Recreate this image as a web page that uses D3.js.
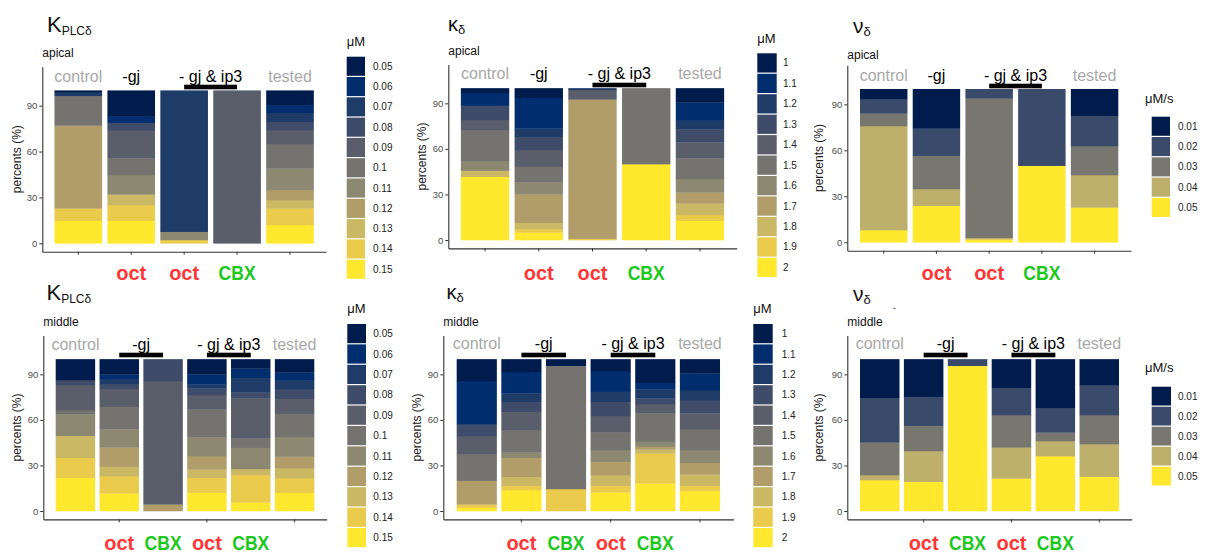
<!DOCTYPE html>
<html><head><meta charset="utf-8">
<script src="https://cdn.jsdelivr.net/npm/d3@7"></script>
<style>
body{margin:0;background:#fff;}
svg{display:block;font-family:"Liberation Sans",Arial,sans-serif;}
</style>
</head><body>
<svg id="chart" width="1211" height="554"></svg>
<script>
// ---------------- DATA ----------------
const kplcLevels  = ["0.05","0.06","0.07","0.08","0.09","0.1","0.11","0.12","0.13","0.14","0.15"];
const kappaLevels = ["1","1.1","1.2","1.3","1.4","1.5","1.6","1.7","1.8","1.9","2"];
const nuLevels    = ["0.01","0.02","0.03","0.04","0.05"];

const apicalGroups = ["control","-gj oct","-gj & ip3 oct","-gj & ip3 CBX","tested"];
const middleGroups = ["control","-gj oct","-gj CBX","-gj & ip3 oct","-gj & ip3 CBX","tested"];

const apicalTreatments = ["","oct","oct","CBX",""];
const middleTreatments = ["","oct","CBX","oct","CBX",""];

const headerLabels = ["control","-gj","- gj & ip3","tested"];

// percent per level (first level = top of stack), one row per bar
const kplcApical = [
  [1.0, 0, 2.5, 0, 0, 19.4, 0, 54.2, 0, 8.1, 14.8],
  [16.8, 4.3, 0, 5.2, 18.1, 10.9, 12.7, 0, 6.9, 10.3, 14.8],
  [0, 0, 92.4, 0, 0, 0, 5.4, 0, 0, 2.2, 0],
  [0, 0, 0, 0, 100, 0, 0, 0, 0, 0, 0],
  [9.6, 5.0, 5.9, 5.4, 9.2, 15.9, 14.1, 6.6, 5.4, 10.9, 12.0]
];
const kappaApical = [
  [3.0, 8.5, 0, 9.5, 6.6, 20.4, 6.3, 0, 4.0, 0, 41.7],
  [6.3, 20.2, 5.5, 8.7, 11.0, 10.3, 7.9, 18.7, 4.2, 2.2, 5.0],
  [0, 0, 1.1, 0, 6.3, 0, 0, 91.7, 0, 0.9, 0],
  [0, 0, 0, 0, 0, 50, 0, 0, 0, 0, 50],
  [9.4, 11.6, 6.1, 8.6, 10.5, 13.6, 8.8, 7.3, 7.6, 3.8, 12.7]
];
const nuApical = [
  [6.7, 9.2, 8.2, 67.9, 8.0],
  [25.7, 17.8, 21.7, 10.9, 23.9],
  [0, 6.1, 90.9, 1.0, 2.0],
  [0, 50, 0, 0, 50],
  [17.4, 19.8, 18.9, 21.1, 22.8]
];
const kplcMiddle = [
  [13.7, 0, 0, 3.3, 16.5, 2.8, 14.1, 0, 14.5, 13.2, 21.9],
  [10.0, 3.1, 3.3, 3.3, 11.6, 14.9, 11.9, 12.7, 6.2, 11.4, 11.6],
  [0, 0, 0, 14.4, 81.2, 0, 0, 4.4, 0, 0, 0],
  [10.0, 6.6, 2.6, 4.4, 9.5, 18.4, 12.3, 8.8, 5.5, 9.8, 12.1],
  [6.1, 6.1, 9.7, 3.9, 26.4, 6.1, 14.0, 0, 4.0, 18.0, 5.7],
  [8.7, 5.4, 5.5, 6.5, 9.8, 15.2, 13.0, 7.6, 6.6, 9.7, 12.0]
];
const kappaMiddle = [
  [14.4, 28.3, 0, 7.9, 11.9, 17.5, 0, 15.6, 0, 2.2, 2.2],
  [8.3, 14.2, 5.5, 6.6, 12.1, 14.7, 3.5, 12.5, 5.9, 2.9, 13.8],
  [4.3, 0, 0, 0, 0, 81.2, 0, 0, 0, 14.5, 0],
  [7.8, 13.6, 6.6, 9.4, 10.8, 11.6, 7.7, 8.8, 7.0, 4.4, 12.3],
  [15.5, 4.4, 5.9, 3.7, 6.2, 18.6, 3.3, 1.8, 2.6, 19.8, 18.2],
  [9.4, 10.9, 6.6, 8.8, 10.3, 13.8, 8.4, 7.7, 7.4, 3.5, 13.2]
];
const nuMiddle = [
  [25.4, 29.4, 21.5, 3.3, 20.4],
  [24.7, 19.1, 16.7, 20.2, 19.3],
  [0, 4.3, 0, 0, 95.7],
  [18.8, 18.0, 21.3, 20.4, 21.5],
  [32.0, 16.2, 5.7, 9.9, 36.2],
  [17.0, 19.8, 19.1, 21.5, 22.6]
];
const yTicks = [0, 30, 60, 90];

// ---------------- STYLE ----------------
const palette11 = ["#001C4C","#002D6E","#1F3C69","#3F4C69","#5A5E6B","#747370","#8D8871","#B09D6A","#CBB864","#EBCB4B","#FFE82E"];
const palette5  = ["#001C4C","#3A4A6B","#77766F","#BDAF6C","#FFE82E"];

const panels = [
  {main:"K", sub:"PLCδ", mainSize:22, subSize:12, region:"apical", unit:"μM",
   levels:kplcLevels, colors:palette11, groups:apicalGroups, values:kplcApical, treat:apicalTreatments,
   L:{x0:42.3, x1:326, po:0.23, y0:243.3, k:1.529, titleX:47, titleY:31.5, regionY:57,
      headY:81.7, lineY:87, treatY:280, ylabX:17, legX:346.7, legTitleY:46, legY:56.7, legStep:20.3, legW:18.3, legLabX:373}},
  {main:"κ", sub:"δ", mainSize:20, subSize:13, region:"apical", unit:"μM",
   levels:kappaLevels, colors:palette11, groups:apicalGroups, values:kappaApical, treat:apicalTreatments,
   L:{x0:448.3, x1:736.7, po:0.234, y0:240, k:1.5185, titleX:448, titleY:30.5, regionY:55,
      headY:79.3, lineY:85, treatY:280, ylabX:421.7, legX:757.3, legTitleY:43.3, legY:53.3, legStep:20.45, legW:19.4, legLabX:783}},
  {main:"ν", sub:"δ", mainSize:21, subSize:13, region:"apical", unit:"μM/s",
   levels:nuLevels, colors:palette5, groups:apicalGroups, values:nuApical, treat:apicalTreatments,
   L:{x0:847.3, x1:1131, po:0.241, y0:242.3, k:1.533, titleX:853, titleY:32.5, regionY:59,
      headY:81, lineY:86, treatY:280, ylabX:819, legX:1151.7, legTitleY:103.3, legY:116.7, legStep:20.3, legW:18.3, legLabX:1178, legTitleX:1145}},
  {main:"K", sub:"PLCδ", mainSize:22, subSize:12, region:"middle", unit:"μM",
   levels:kplcLevels, colors:palette11, groups:middleGroups, values:kplcMiddle, treat:middleTreatments,
   L:{x0:43.3, x1:326.7, po:0.283, y0:511, k:1.5185, titleX:46.5, titleY:300, regionY:326,
      headY:350, lineY:355, treatY:550, ylabX:16.7, legX:347.3, legTitleY:313.3, legY:324, legStep:20.4, legW:18.7, legLabX:373.3}},
  {main:"κ", sub:"δ", mainSize:20, subSize:13, region:"middle", unit:"μM",
   levels:kappaLevels, colors:palette11, groups:middleGroups, values:kappaMiddle, treat:middleTreatments,
   L:{x0:443.3, x1:733.4, po:0.30, y0:511, k:1.5185, titleX:446.5, titleY:299, regionY:326,
      headY:349.3, lineY:355, treatY:550, ylabX:416.7, legX:753.3, legTitleY:312.7, legY:324, legStep:20.4, legW:19.4, legLabX:781.7}},
  {main:"ν", sub:"δ", mainSize:21, subSize:13, region:"middle", unit:"μM/s",
   levels:nuLevels, colors:palette5, groups:middleGroups, values:nuMiddle, treat:middleTreatments, mark:true,
   L:{x0:847.3, x1:1131.7, po:0.289, y0:511, k:1.5185, titleX:853, titleY:301, regionY:326,
      headY:349, lineY:355, treatY:550, ylabX:819, legX:1151.7, legTitleY:371.7, legY:386.7, legStep:20, legW:19.3, legLabX:1178, legTitleX:1145}}
];

const svg = d3.select("#chart");

panels.forEach(p => {
  const L = p.L;
  const g = svg.append("g");
  const n = p.groups.length;

  const x = d3.scaleBand().domain(p.groups).range([L.x0, L.x1])
    .paddingInner(0.1).paddingOuter(L.po);
  const y = d3.scaleLinear().domain([-5.5, 115.5])
    .range([L.y0 + 5.5 * L.k, L.y0 - 115.5 * L.k]);
  const color = d3.scaleOrdinal().domain(p.levels).range(p.colors);

  // stacked bars: last level at bottom
  const rows = p.groups.map((grp, i) => {
    const o = {group: grp};
    p.levels.forEach((lv, j) => o[lv] = p.values[i][j]);
    return o;
  });
  const stackKeys = p.levels.slice().reverse();
  const series = d3.stack().keys(stackKeys)(rows);

  g.append("g").selectAll("g").data(series).join("g")
    .attr("fill", d => color(d.key))
    .selectAll("rect").data(d => d.filter(s => s[1] - s[0] > 0)).join("rect")
    .attr("x", d => x(d.data.group))
    .attr("width", x.bandwidth())
    .attr("y", d => y(d[1]))
    .attr("height", d => y(d[0]) - y(d[1]) + 0.3);

  // axes
  const ya = g.append("g").attr("transform", `translate(${L.x0},0)`)
    .call(d3.axisLeft(y).tickValues(yTicks).tickSize(3).tickSizeOuter(0).tickPadding(2));
  ya.select(".domain").attr("stroke", "#333").attr("stroke-width", 1.1);
  ya.selectAll(".tick line").attr("stroke", "#333");
  ya.selectAll(".tick text").attr("fill", "#4d4d4d").attr("font-size", 9.5)
    .attr("font-family", "Liberation Sans, Arial, sans-serif");

  const tickGroups = n === 6 ? [p.groups[1], p.groups[3], p.groups[5]] : p.groups;
  const xa = g.append("g").attr("transform", `translate(0,${y(-5.5)})`)
    .call(d3.axisBottom(x).tickValues(tickGroups).tickFormat("").tickSize(3).tickSizeOuter(0));
  xa.select(".domain").attr("stroke", "#333").attr("stroke-width", 1.1);
  xa.selectAll(".tick line").attr("stroke", "#333");

  // y label
  const yc = (y(-5.5) + y(115.5)) / 2;
  g.append("text").attr("transform", `translate(${L.ylabX},${yc}) rotate(-90)`)
    .attr("text-anchor", "middle").attr("dominant-baseline", "central")
    .attr("font-size", 12).attr("fill", "#1a1a1a").text("percents (%)");

  // title
  const t = g.append("text").attr("x", L.titleX).attr("y", L.titleY).attr("fill", "#111");
  t.append("tspan").attr("font-size", p.mainSize).text(p.main);
  t.append("tspan").attr("font-size", p.subSize).attr("dy", 3).text(p.sub);
  g.append("text").attr("x", L.x0).attr("y", L.regionY).attr("font-size", 12)
    .attr("fill", "#111").text(p.region);
  if (p.mark) {
    g.append("text").attr("x", 893).attr("y", 311).attr("font-size", 9).attr("fill", "#333").text("-");
  }

  // header labels
  const cx = grp => x(grp) + x.bandwidth() / 2;
  const spans = n === 6 ? [[0], [1, 2], [3, 4], [5]] : [[0], [1], [2, 3], [4]];
  headerLabels.forEach((lab, i) => {
    const idx = spans[i];
    const a = cx(p.groups[idx[0]]), b = cx(p.groups[idx[idx.length - 1]]);
    const gray = (i === 0 || i === 3);
    if (idx.length > 1) {
      g.append("rect").attr("x", a).attr("width", b - a)
        .attr("y", L.lineY - 2.3).attr("height", 4.6).attr("fill", "#000");
    }
    g.append("text").attr("x", (a + b) / 2).attr("y", L.headY)
      .attr("text-anchor", "middle").attr("font-size", 16)
      .attr("fill", gray ? "#a8a8a8" : "#000").text(lab);
  });

  // treatment labels
  p.treat.forEach((tr, i) => {
    if (!tr) return;
    g.append("text").attr("x", cx(p.groups[i])).attr("y", L.treatY)
      .attr("text-anchor", "middle").attr("font-size", 21).attr("font-weight", "bold")
      .attr("textLength", tr === "oct" ? 30 : 37).attr("lengthAdjust", "spacingAndGlyphs")
      .attr("fill", tr === "oct" ? "#FF3636" : "#1CC81C").text(tr);
  });

  // legend
  const lg = g.append("g");
  lg.append("text").attr("x", L.legTitleX || L.legX).attr("y", L.legTitleY)
    .attr("font-size", 13).attr("fill", "#111").text(p.unit);
  p.levels.forEach((lv, i) => {
    const yy = L.legY + i * L.legStep;
    lg.append("rect").attr("x", L.legX).attr("y", yy).attr("width", L.legW)
      .attr("height", L.legStep - 1.2).attr("fill", color(lv));
    lg.append("text").attr("x", L.legLabX).attr("y", yy + (L.legStep - 1.2) / 2)
      .attr("dominant-baseline", "central").attr("font-size", 10).attr("fill", "#222").text(lv);
  });
});
</script>
</body></html>
